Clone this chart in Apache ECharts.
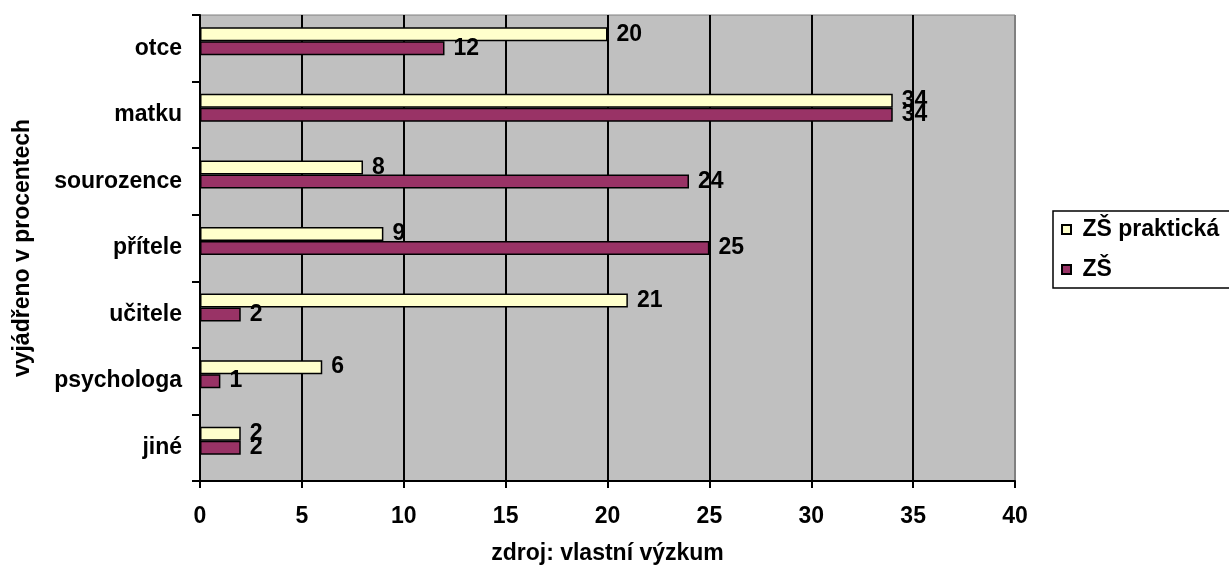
<!DOCTYPE html>
<html>
<head>
<meta charset="utf-8">
<script src="https://cdn.jsdelivr.net/npm/echarts@6/dist/echarts.min.js"></script>
<style>
  html, body { margin: 0; padding: 0; background: #fff; }
  #main { width: 1229px; height: 572px; }
</style>
</head>
<body>
<div id="main"></div>
<script>
// kategorie odspodu nahoru (osa y)
var categories = ['jiné', 'psychologa', 'učitele', 'přítele', 'sourozence', 'matku', 'otce'];
var zsPrakticka = [2, 6, 21, 9, 8, 34, 20];
var zs = [2, 1, 2, 25, 24, 34, 12];
var xTicks = [0, 5, 10, 15, 20, 25, 30, 35, 40];

var font = 'Liberation Sans';
var fs = 23;

var myChart = echarts.init(document.getElementById('main'));

var labelStyle = {
    show: true,
    position: 'right',
    distance: 9,
    color: '#000',
    fontFamily: font,
    fontWeight: 'bold',
    fontSize: fs
};

var gridColors = xTicks.map(function (t, i) { return i === xTicks.length - 1 ? '#808080' : '#000'; });

option = {
    backgroundColor: '#fff',
    animation: false,
    grid: {
        left: 200,
        top: 15,
        right: 214,
        bottom: 91,
        show: true,
        backgroundColor: '#c0c0c0',
        borderColor: '#808080',
        borderWidth: 1
    },
    legend: {
        orient: 'vertical',
        left: 1053,
        top: 211,
        data: ['ZŠ praktická', 'ZŠ'],
        icon: 'rect',
        itemWidth: 9,
        itemHeight: 9,
        itemGap: 17,
        padding: [7, 60, 7, 8],
        backgroundColor: '#fff',
        borderColor: '#000',
        borderWidth: 1.5,
        borderRadius: 0,
        formatter: ' {name}',
        textStyle: { color: '#000', fontFamily: font, fontWeight: 'bold', fontSize: fs }
    },
    xAxis: {
        type: 'value',
        min: xTicks[0],
        max: xTicks[xTicks.length - 1],
        interval: 5,
        name: 'zdroj: vlastní výzkum',
        nameLocation: 'middle',
        nameGap: 61,
        nameTextStyle: { color: '#000', fontFamily: font, fontWeight: 'bold', fontSize: fs },
        axisLine: { show: true, lineStyle: { color: '#000', width: 2 } },
        axisTick: { show: true, length: 7, lineStyle: { color: '#000', width: 2 } },
        axisLabel: { color: '#000', fontFamily: font, fontWeight: 'bold', fontSize: fs, margin: 24 },
        splitLine: { show: true, lineStyle: { color: gridColors, width: 2 } }
    },
    yAxis: {
        type: 'category',
        data: categories,
        name: 'vyjádřeno v procentech',
        nameLocation: 'middle',
        nameRotate: 90,
        nameGap: 166,
        nameTextStyle: { color: '#000', fontFamily: font, fontWeight: 'bold', fontSize: fs },
        axisLine: { show: true, lineStyle: { color: '#000', width: 2 } },
        axisTick: { show: true, length: 8, lineStyle: { color: '#000', width: 2 } },
        axisLabel: { color: '#000', fontFamily: font, fontWeight: 'bold', fontSize: fs, margin: 18 }
    },
    series: [
        {
            name: 'ZŠ praktická',
            type: 'bar',
            data: zsPrakticka,
            barWidth: 14,
            barGap: '0%',
            itemStyle: { color: '#ffffcc', borderColor: '#000', borderWidth: 1.5 },
            label: labelStyle
        },
        {
            name: 'ZŠ',
            type: 'bar',
            data: zs,
            barWidth: 14,
            barGap: '0%',
            itemStyle: { color: '#993366', borderColor: '#000', borderWidth: 1.5 },
            label: labelStyle
        },
        {
            // prázdná řada – v originále posouvá dvojici sloupců nahoru
            name: '',
            type: 'bar',
            data: categories.map(function () { return null; }),
            barWidth: 14,
            barGap: '0%'
        }
    ]
};

myChart.setOption(option);
</script>
</body>
</html>
